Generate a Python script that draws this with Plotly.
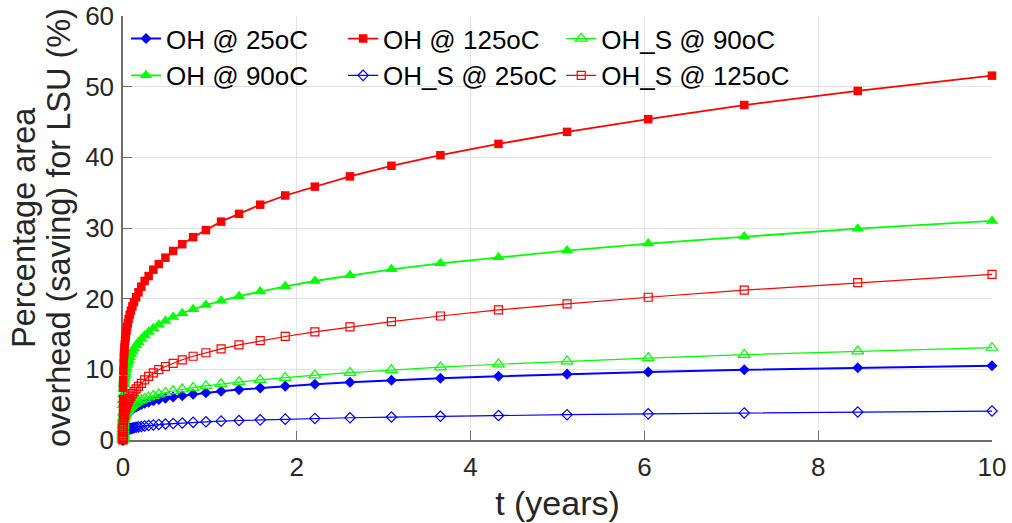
import plotly.graph_objects as go

# time (years)
t_years = [0, 1e-7, 1e-6, 3e-6, 1e-5, 3e-5, 1e-4, 3e-4, 0.001, 0.002, 0.004, 0.007,
           0.0103, 0.0121, 0.0144, 0.017, 0.0201, 0.0238, 0.0281, 0.0332, 0.0393, 0.0465,
           0.055, 0.065, 0.077, 0.091, 0.108, 0.127, 0.151, 0.178,
           0.211, 0.249, 0.295, 0.349, 0.412, 0.488, 0.577, 0.682, 0.807, 0.954,
           1.129, 1.335, 1.579, 1.867, 2.208, 2.612, 3.089, 3.653, 4.321, 5.110,
           6.044, 7.149, 8.455, 10.0]

oh_25 = [0, 0.27, 0.43, 0.54, 0.68, 0.85, 1.09, 1.35, 1.72, 1.97, 2.27, 2.54,
         2.75, 2.83, 2.93, 3.03, 3.13, 3.24, 3.35, 3.47, 3.58, 3.71,
         3.84, 3.97, 4.1, 4.24, 4.39, 4.53, 4.69, 4.85,
         5.02, 5.19, 5.36, 5.55, 5.72, 5.9, 6.08, 6.27, 6.47, 6.68,
         6.9, 7.13, 7.37, 7.62, 7.9, 8.17, 8.45, 8.73, 9.02, 9.32,
         9.62, 9.93, 10.22, 10.52]

oh_90 = [0, 0.78, 1.23, 1.54, 1.95, 2.44, 3.1, 3.86, 4.91, 5.63, 6.48, 7.25,
         7.83, 8.08, 8.37, 8.65, 8.94, 9.26, 9.56, 9.9, 10.2, 10.6,
         10.95, 11.3, 11.7, 12.1, 12.5, 12.94, 13.4, 13.84,
         14.3, 14.8, 15.3, 15.8, 16.3, 16.85, 17.4, 17.95, 18.5, 19.1,
         19.7, 20.35, 21.0, 21.75, 22.5, 23.3, 24.15, 25.0, 25.85, 26.8,
         27.8, 28.8, 29.9, 31.0]

oh_125 = [0, 1.17, 1.86, 2.3, 2.95, 3.7, 4.7, 5.8, 7.4, 8.5, 9.8, 10.9,
          11.8, 12.2, 12.6, 13.05, 13.5, 14.0, 14.45, 14.9, 15.45, 16.0,
          16.5, 17.1, 17.7, 18.3, 18.9, 19.5, 20.2, 20.9,
          21.7, 22.5, 23.2, 24.1, 24.9, 25.8, 26.75, 27.7, 28.7, 29.7,
          30.9, 32.0, 33.3, 34.6, 35.85, 37.3, 38.8, 40.3, 41.9, 43.6,
          45.4, 47.4, 49.4, 51.56]

ohs_25 = [0, 0.1, 0.17, 0.21, 0.26, 0.33, 0.42, 0.52, 0.66, 0.76, 0.87, 0.97,
          1.05, 1.09, 1.13, 1.16, 1.2, 1.24, 1.29, 1.33, 1.37, 1.42,
          1.47, 1.52, 1.57, 1.63, 1.68, 1.74, 1.8, 1.86,
          1.92, 1.99, 2.06, 2.13, 2.2, 2.26, 2.33, 2.41, 2.5, 2.58,
          2.67, 2.76, 2.85, 2.95, 3.05, 3.15, 3.25, 3.36, 3.47, 3.58,
          3.7, 3.83, 3.96, 4.1]

ohs_90 = [0, 0.31, 0.49, 0.61, 0.77, 0.96, 1.23, 1.53, 1.94, 2.23, 2.56, 2.87,
          3.1, 3.19, 3.31, 3.42, 3.53, 3.66, 3.78, 3.91, 4.04, 4.18,
          4.33, 4.47, 4.63, 4.78, 4.95, 5.11, 5.3, 5.47,
          5.66, 5.85, 6.05, 6.25, 6.47, 6.7, 6.93, 7.17, 7.4, 7.65,
          7.92, 8.2, 8.5, 8.82, 9.17, 9.53, 9.9, 10.3, 10.72, 11.15,
          11.6, 12.07, 12.55, 13.07]

ohs_125 = [0, 0.1, 0.2, 0.28, 0.4, 0.56, 0.81, 1.12, 1.61, 1.97, 2.43, 2.88,
           3.24, 3.39, 3.58, 3.76, 3.95, 4.16, 4.37, 4.6, 4.83, 5.1,
           5.35, 5.6, 5.9, 6.2, 6.55, 6.87, 7.24, 7.6,
           8.0, 8.5, 9.0, 9.5, 9.95, 10.4, 10.85, 11.35, 11.85, 12.35,
           12.9, 13.45, 14.05, 14.65, 15.3, 16.0, 16.75, 17.55, 18.4, 19.25,
           20.2, 21.2, 22.27, 23.45]

x_ticks = [0, 2, 4, 6, 8, 10]
y_ticks = [0, 10, 20, 30, 40, 50, 60]
y_title_lines = ["Percentage area", "overhead (saving) for LSU (%)"]

BLUE, GREEN, RED = "#0000ff", "#00ff00", "#ff0000"

series = [
    # name, values, color, symbol, size, filled, line width, legend column
    ("OH @ 25oC", oh_25, BLUE, "diamond", 8.5, True, 2.0, "legend"),
    ("OH @ 90oC", oh_90, GREEN, "triangle-up", 11, True, 1.8, "legend"),
    ("OH @ 125oC", oh_125, RED, "square", 8.5, True, 1.8, "legend2"),
    ("OH_S @ 25oC", ohs_25, BLUE, "diamond-open", 8, False, 1.2, "legend2"),
    ("OH_S @ 90oC", ohs_90, GREEN, "triangle-up-open", 10.5, False, 1.2, "legend3"),
    ("OH_S @ 125oC", ohs_125, RED, "square-open", 8, False, 1.2, "legend3"),
]

fig = go.Figure()
for name, vals, col, sym, size, filled, lw, leg in series:
    fig.add_trace(go.Scatter(
        x=t_years, y=vals, name=name, mode="lines+markers",
        line=dict(color=col, width=lw),
        marker=dict(symbol=sym, size=size, color=col,
                    line=dict(color=col, width=1.2 if not filled else 0)),
        cliponaxis=False, legend=leg,
    ))

font_family = "Liberation Sans, Arial, Helvetica, sans-serif"
axis_common = dict(
    showgrid=True, gridcolor="#e3e3e3", gridwidth=1,
    showline=True, linecolor="#6e6e6e", linewidth=1.5,
    ticks="inside", ticklen=9, tickwidth=1.2, tickcolor="#6e6e6e",
    zeroline=False, layer="below traces", automargin=False,
    tickfont=dict(family=font_family, size=26, color="#262626"),
)

legend_common = dict(
    orientation="v", xanchor="left", y=1.002, yanchor="top",
    bgcolor="rgba(0,0,0,0)", borderwidth=0,
    font=dict(size=26, family=font_family, color="black"),
    itemwidth=30, traceorder="normal", tracegroupgap=0,
)

fig.update_layout(
    width=1012, height=523,
    margin=dict(l=123, r=20, t=16, b=83, autoexpand=False),
    paper_bgcolor="white", plot_bgcolor="white",
    font=dict(family=font_family, color="#262626"),
    xaxis=dict(range=[0, 10], tickvals=x_ticks, ticklabelstandoff=3,
               title=dict(text="t (years)", font=dict(size=34, family=font_family, color="#262626"),
                          standoff=10),
               **axis_common),
    yaxis=dict(range=[0, 60], tickvals=y_ticks, ticklabelstandoff=2, **axis_common),
    legend=dict(x=0.0035, **legend_common),
    legend2=dict(x=0.2533, **legend_common),
    legend3=dict(x=0.5043, **legend_common),
    showlegend=True,
)

# two-line y-axis title, placed line by line
for line_text, shift in zip(y_title_lines, [-99, -64]):
    fig.add_annotation(
        text=line_text, xref="paper", yref="paper", x=0, y=0.5,
        xanchor="center", yanchor="middle", xshift=shift, textangle=-90,
        showarrow=False, font=dict(size=32.5, family=font_family, color="#262626"),
    )

fig.write_html("out.html",
               config={"displayModeBar": False},
               post_script="document.body.style.margin='0';document.body.style.overflow='hidden';")
